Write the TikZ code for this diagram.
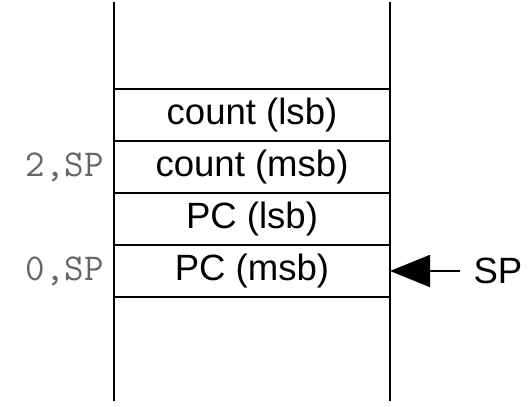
\documentclass[tikz,border=0pt]{standalone}
\usepackage{fontspec}
\setmainfont{Liberation Sans}
\usetikzlibrary{positioning,arrows.meta}
\begin{document}
\begin{tikzpicture}[line width=1.2pt,
	cell/.style={draw,outer sep=0pt,minimum width=6.9cm,minimum height=1.3cm,
		font=\fontsize{26}{30}\selectfont},
	offset/.style={font=\fontsize{27}{30}\selectfont\ttfamily,text=black!60},
	sparrow/.style={-{Triangle[length=1cm,width=0.8cm]},shorten <=0.2cm}]
	
	\def\xl{2.85}
	\def\xr{9.75}
	\def\ytop{10.1}
	\def\ybot{0.125}
	\useasboundingbox (0,0) rectangle (13.25,10.15);
	\draw (\xl,\ybot)--(\xl,\ytop);
	\draw (\xr,\ybot)--(\xr,\ytop);
	
	\node[cell] (cntlsb) at ({(\xl+\xr)/2},7.275) {count (lsb)};
	\node[cell,below=0pt of cntlsb] (cntmsb) {count (msb)};
	\node[cell,below=0pt of cntmsb] (pclsb) {PC (lsb)};
	\node[cell,below=0pt of pclsb] (pcmsb) {PC (msb)};
	
	\node[offset,left=0.12cm of cntmsb] (offtwo) {2,SP};
	\node[offset,left=0.12cm of pcmsb] (offzero) {0,SP};
	
	\node[font=\fontsize{26}{30}\selectfont,right=1.95cm of pcmsb] (sp) {SP};
	\draw[sparrow] (sp)--(pcmsb);
	
\end{tikzpicture}
\end{document}
